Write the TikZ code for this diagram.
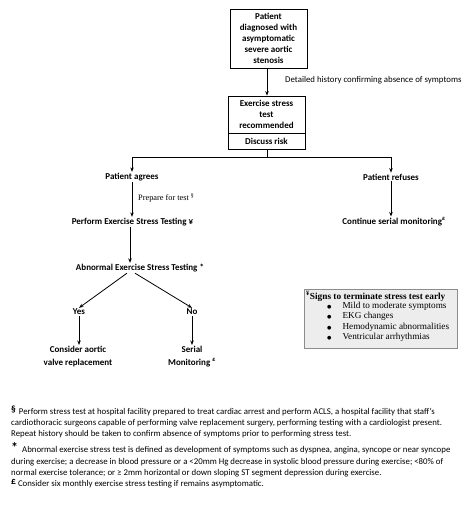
\documentclass[tikz,border=0pt]{standalone}
\usepackage{fontspec}
\setmainfont{Carlito}
\newfontfamily\tms{Liberation Serif}
\newfontfamily\djv{DejaVu Sans}
\usetikzlibrary{arrows.meta,positioning}
\begin{document}
\begin{tikzpicture}[x=1pt,y=-1pt,
  arr/.style={-{Stealth[length=4.5pt,width=3.5pt]},line width=0.8pt},
  ln/.style={line width=0.8pt},
  bx/.style={draw,line width=0.8pt,align=center,font=\fontsize{9}{11}\selectfont\bfseries,inner sep=1pt},
  lab/.style={align=center,font=\fontsize{9}{12.5}\selectfont\bfseries,inner sep=1pt},
  note/.style={align=left,anchor=north west,inner sep=0pt,font=\fontsize{8.8}{11.3}\selectfont}
]
\useasboundingbox (0,0) rectangle (474,507);
\node[bx,minimum width=77pt,minimum height=59pt] (top) at (268.5,38.5)
  {Patient\\diagnosed with\\asymptomatic\\severe aortic\\stenosis};
\node[bx,minimum width=77pt,minimum height=37pt] (rec) at (266.5,114.5)
  {Exercise stress\\test\\recommended};
\node[bx,minimum width=77pt,minimum height=16pt,anchor=north] (risk) at (rec.south) {Discuss risk};
\draw[arr] (top.south -| 267,0) -- (rec.north -| 267,0);
\node[anchor=west,inner sep=0pt,font=\fontsize{8.8}{10}\selectfont] (hist) at (285,80)
  {Detailed history confirming absence of symptoms};
\coordinate (j) at (267,157);
\coordinate (jl) at (132,157);
\coordinate (jr) at (391,157);
\node[lab] (agree) at (132,177) {Patient agrees};
\node[lab] (refuse) at (391,177) {Patient refuses};
\draw[ln] (risk.south -| j) -- (j);
\draw[ln] (jl) -- (jr);
\draw[arr] (jl) -- (agree.north);
\draw[arr] (jr) -- (refuse.north);
\node[lab] (perform) at (132.5,222) {Perform Exercise Stress Testing ¥};
\node[lab] (cont) at (394,222) {Continue serial monitoring\textsuperscript{£}};
\draw[arr] (agree.south) -- (perform.north -| agree);
\draw[arr] (refuse.south) -- (refuse |- cont.north);
\node[anchor=west,inner sep=0pt,font=\tms\fontsize{8.3}{9}\selectfont] (prep) at (138,198)
  {Prepare for test \textsuperscript{§}};
\node[lab] (abn) at (140,268) {Abnormal Exercise Stress Testing *};
\draw[arr] (perform.south -| 130,0) -- (abn.north -| 130,0);
\node[lab] (yes) at (79,312) {Yes};
\node[lab] (no) at (192,312) {No};
\draw[arr] ([xshift=-13pt]abn.south) -- (yes.north);
\draw[arr] ([xshift=-5pt]abn.south) -- (no.north);
\node[lab,anchor=north] (cav) at (78,345) {Consider aortic\\valve replacement};
\node[lab,anchor=north] (ser) at (192,345) {Serial\\Monitoring \textsuperscript{£}};
\draw[arr] (yes.south) -- (cav.north -| yes);
\draw[arr] (no.south) -- (ser.north -| no);
\node[draw=black!45,fill=black!7,line width=0.6pt,minimum width=153pt,minimum height=59pt,inner sep=0pt] (sbox) at (380.5,318.5) {};
\node[anchor=north west,inner sep=0pt,align=left,font=\tms\fontsize{9.3}{10.2}\selectfont] (signs) at (306,291.5)
  {\textbf{\textsuperscript{¥}Signs to terminate stress test early}};
\node[anchor=north west,inner sep=0pt,align=left,font=\tms\fontsize{9.2}{10.3}\selectfont] (items) at (327,302)
  {{\djv\fontsize{5}{10.3}\selectfont●}\hspace{11pt}Mild to moderate symptoms\\
   {\djv\fontsize{5}{10.3}\selectfont●}\hspace{11pt}EKG changes\\
   {\djv\fontsize{5}{10.3}\selectfont●}\hspace{11pt}Hemodynamic abnormalities\\
   {\djv\fontsize{5}{10.3}\selectfont●}\hspace{11pt}Ventricular arrhythmias};
\node[note] (n1) at (11,406)
  {\raisebox{1.5pt}{\fontsize{9.5}{11}\selectfont\bfseries §}\hspace{3pt}Perform stress test at hospital facility prepared to treat cardiac arrest and perform ACLS, a hospital facility that staff's\\
  cardiothoracic surgeons capable of performing valve replacement surgery, performing testing with a cardiologist present.\\
  Repeat history should be taken to confirm absence of symptoms prior to performing stress test.};
\node[note] (n2) at (11,442)
  {\raisebox{0.5pt}{\fontsize{14}{11}\selectfont\bfseries *}\hspace{4pt}Abnormal exercise stress test is defined as development of symptoms such as dyspnea, angina, syncope or near syncope\\
  during exercise; a decrease in blood pressure or a <20mm Hg decrease in systolic blood pressure during exercise; <80\% of\\
  normal exercise tolerance; or ≥ 2mm horizontal or down sloping ST segment depression during exercise.};
\node[note] (n3) at (11,479)
  {\raisebox{2.5pt}{\fontsize{9.5}{11}\selectfont\bfseries £}\hspace{2pt}Consider six monthly exercise stress testing if remains asymptomatic.};
\end{tikzpicture}
\end{document}
